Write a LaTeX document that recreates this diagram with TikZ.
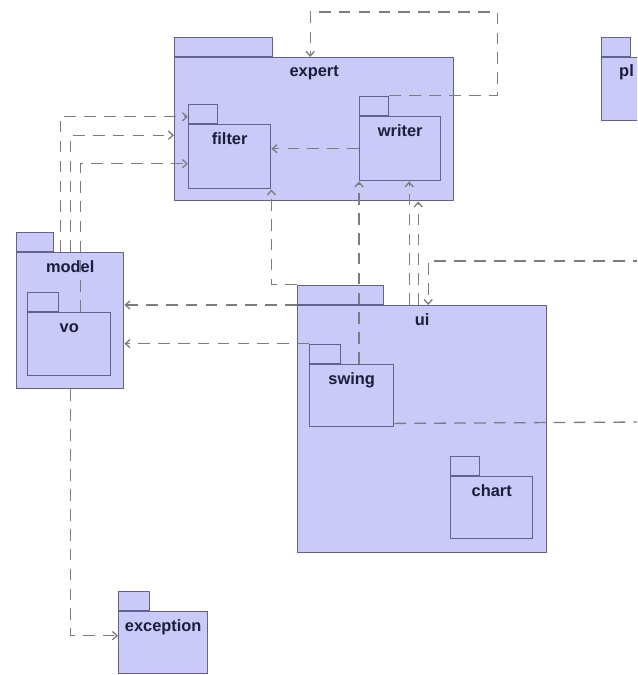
\documentclass[tikz,border=0pt]{standalone}
\usepackage{fontspec}
\setmainfont{Liberation Sans}
\usetikzlibrary{calc,arrows.meta}
\usepackage{xcolor}
\definecolor{pkgfill}{HTML}{CACAF8}
\definecolor{pkgedge}{HTML}{62628A}
\definecolor{pkgtext}{HTML}{1C1C3C}
\definecolor{depline}{HTML}{7C7C7C}

\newcommand{\pxu}{0.03cm}
% #1 name, #2 x, #3 y (top of body), #4 width, #5 height, #6 tab width, #7 label
\newcommand{\umlpkg}[7]{%
  \node[pkgtab, minimum width=#6*\pxu, anchor=south west] (#1-tab) at (#2,#3) {};
  \node[pkgbody, minimum width=#4*\pxu, minimum height=#5*\pxu, anchor=north west] (#1) at (#2,#3) {};
  \node[pkgname] (#1-name) at ($(#1.north)+(0,20)$) {#7};
}

\begin{document}
\begin{tikzpicture}[x=0.03cm, y=-0.03cm,
  pkgtab/.style={draw=pkgedge, fill=pkgfill, line width=1.2pt, rectangle, inner sep=0pt, minimum height=19*\pxu},
  pkgbody/.style={draw=pkgedge, fill=pkgfill, line width=1.2pt, rectangle, inner sep=0pt},
  pkgname/.style={font=\fontsize{14pt}{16pt}\selectfont\bfseries, text=pkgtext, anchor=base, inner sep=0pt},
  dep/.style={draw=depline, line width=1.1pt, dash pattern=on 10pt off 7pt, -{Straight Barb[length=4pt, width=7pt]}}]

  % Canvas
  \useasboundingbox (0,0) rectangle (637,675);
  \clip (0,0) rectangle (637,675);
  \fill[white] (0,0) rectangle (637,675);

  % ==================== PACKAGES ====================
  % expert with filter and writer
  \umlpkg{expert}{174}{57}{279}{143}{98}{expert}
  \umlpkg{filter}{188}{124}{82}{64}{29}{filter}
  \umlpkg{writer}{359}{116}{81}{64}{29}{writer}

  % pl (cut at the right edge)
  \node[pkgtab, minimum width=29*\pxu, anchor=south west] (pl-tab) at (601,57) {};
  \node[pkgbody, minimum width=60*\pxu, minimum height=63*\pxu, anchor=north west] (pl) at (601,57) {};
  \node[pkgname, anchor=base west] (pl-name) at (619,77) {pl};

  % model with vo
  \umlpkg{model}{16}{252}{107}{136}{37}{model}
  \umlpkg{vo}{27}{312}{83}{63}{31}{vo}

  % ui with swing and chart
  \umlpkg{ui}{297}{305}{249}{247}{86}{ui}
  \umlpkg{swing}{309}{364}{84}{62}{31}{swing}
  \umlpkg{chart}{450}{476}{82}{62}{29}{chart}

  % exception
  \umlpkg{exception}{118}{611}{89}{62}{31}{exception}

  % ==================== DEPENDENCIES ====================
  % inside expert
  \draw[dep] (writer.west) -- (filter.east |- writer.west);
  \draw[dep] (writer-tab.north east) -- ++(108,0) |- ($(expert.north)+(-4,-45)$) -- ($(expert.north)+(-4,0)$);

  % model / vo to expert
  \draw[dep] ($(model.north)+(-10,0)$) |- ($(filter-tab.west)+(0,3)$);
  \draw[dep] (model.north) |- ($(expert.west)+(0,6)$);
  \draw[dep] ($(vo.north)+(11,0)$) |- ($(filter.west)+(0,7)$);

  % ui / swing to model
  \draw[dep] (ui.north west) -- (model.east |- ui.north west);
  \draw[dep] (swing-tab.north west) -- (model.east |- swing-tab.north west);

  % ui / swing to expert
  \draw[dep] (ui-tab.north west) -| (filter.south east);
  \draw[dep] (swing.north -| writer.south west) -- (writer.south west);
  \coordinate (wr-in) at ($(writer.south)+(9,0)$);
  \draw[dep] (ui.north -| wr-in) -- (wr-in);
  \draw[dep] ($(ui.north)+(-4,0)$) -- ($(ui.north |- expert.south)+(-4,0)$);

  % lines running off to the right
  \coordinate (east-a) at (645,261);
  \coordinate (east-b) at (645,422);
  \draw[dep] (east-a) -| ($(ui.north)+(6,0)$);
  \draw[dep, -] ($(swing.south east)+(0,-4)$) -- (east-b);

  % model to exception
  \draw[dep] (model.south) |- ($(exception.west)+(0,-7)$);

\end{tikzpicture}
\end{document}
